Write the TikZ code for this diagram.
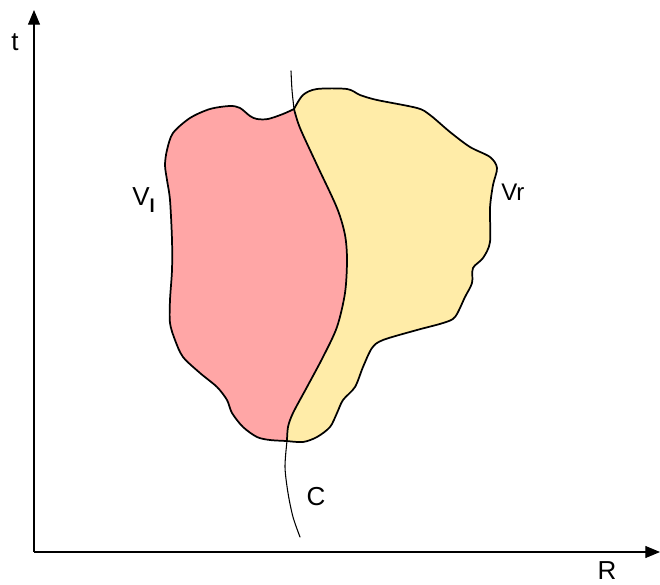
\documentclass[tikz,border=0pt]{standalone}
\usepackage{fontspec}
\setmainfont{Liberation Sans}
\usetikzlibrary{arrows.meta}
\definecolor{pinkfill}{HTML}{FFA6A6}
\definecolor{yellowfill}{HTML}{FFECA8}
\tikzset{
  axis/.style={line width=0.8pt, -{Triangle[length=11pt,width=9pt]}},
  outline/.style={line width=1.3pt, line join=round, line cap=round},
  thinline/.style={line width=0.8pt, line cap=round},
  lbl/.style={inner sep=0pt, font=\fontsize{19.5pt}{22pt}\selectfont},
}
\begin{document}
\begin{tikzpicture}[x=0.75pt,y=-0.75pt]
\useasboundingbox (0,0) rectangle (660,585);
\coordinate (o) at (34,552);
\coordinate (ytip) at (34,10);
\coordinate (xtip) at (660,552);
% regions
\fill[pinkfill] plot[smooth] coordinates {(294,109) (283,114) (268,119) (257,119) (250,116) (240,108) (230,106) (210,109) (190,118) (173,133) (167,150) (165,165) (167,180) (170,200) (172,240) (172,270) (170,300) (170,323) (175,340) (183,357) (200,373) (217,387) (227,400) (232,413) (243,427) (257,437) (270,440) (287,441)}
  -- plot[smooth] coordinates {(287,441) (288,427) (293,413) (307,387) (323,357) (337,327) (345,293) (347,260) (345,235) (337,208) (317,165) (300,128) (294,109)} -- cycle;
\fill[yellowfill] plot[smooth] coordinates {(294,109) (303,95) (317,89) (347,89) (360,95) (377,100) (417,108) (430,115) (450,132) (470,147) (490,157) (497,168) (493,185) (490,208) (490,242) (483,258) (473,268) (472,283) (465,297) (455,317) (443,323) (417,330) (383,340) (372,348) (363,367) (355,387) (343,400) (337,413) (330,427) (317,437) (303,442) (287,441)}
  -- plot[smooth] coordinates {(287,441) (288,427) (293,413) (307,387) (323,357) (337,327) (345,293) (347,260) (345,235) (337,208) (317,165) (300,128) (294,109)} -- cycle;
% outlines
\draw[outline] plot[smooth] coordinates {(294,109) (283,114) (268,119) (257,119) (250,116) (240,108) (230,106) (210,109) (190,118) (173,133) (167,150) (165,165) (167,180) (170,200) (172,240) (172,270) (170,300) (170,323) (175,340) (183,357) (200,373) (217,387) (227,400) (232,413) (243,427) (257,437) (270,440) (287,441)};
\draw[outline] plot[smooth] coordinates {(294,109) (303,95) (317,89) (347,89) (360,95) (377,100) (417,108) (430,115) (450,132) (470,147) (490,157) (497,168) (493,185) (490,208) (490,242) (483,258) (473,268) (472,283) (465,297) (455,317) (443,323) (417,330) (383,340) (372,348) (363,367) (355,387) (343,400) (337,413) (330,427) (317,437) (303,442) (287,441)};
\draw[outline] plot[smooth] coordinates {(294,109) (300,128) (317,165) (337,208) (345,235) (347,260) (345,293) (337,327) (323,357) (307,387) (293,413) (288,427) (287,441)};
% curve C extensions
\draw[thinline] plot[smooth] coordinates {(291,71) (292,90) (294,109)};
\draw[thinline] plot[smooth] coordinates {(287,441) (285,467) (288,493) (293,517) (300,537)};
% axes
\draw[axis] (o) -- (ytip);
\draw[axis] (o) -- (xtip);
% labels
\node[lbl] (t) at (15,42) {t};
\node[lbl] (R) at (607,571) {R};
\node[lbl] (C) at (316,497) {C};
\node[lbl, anchor=base west] (Vl) at (132,205) {V\raisebox{-0.3em}{\fontsize{14pt}{16pt}\selectfont\bfseries l}};
\node[lbl, anchor=base west, font=\fontsize{18pt}{20pt}\selectfont] (Vr) at (501,200) {Vr};
\end{tikzpicture}
\end{document}
